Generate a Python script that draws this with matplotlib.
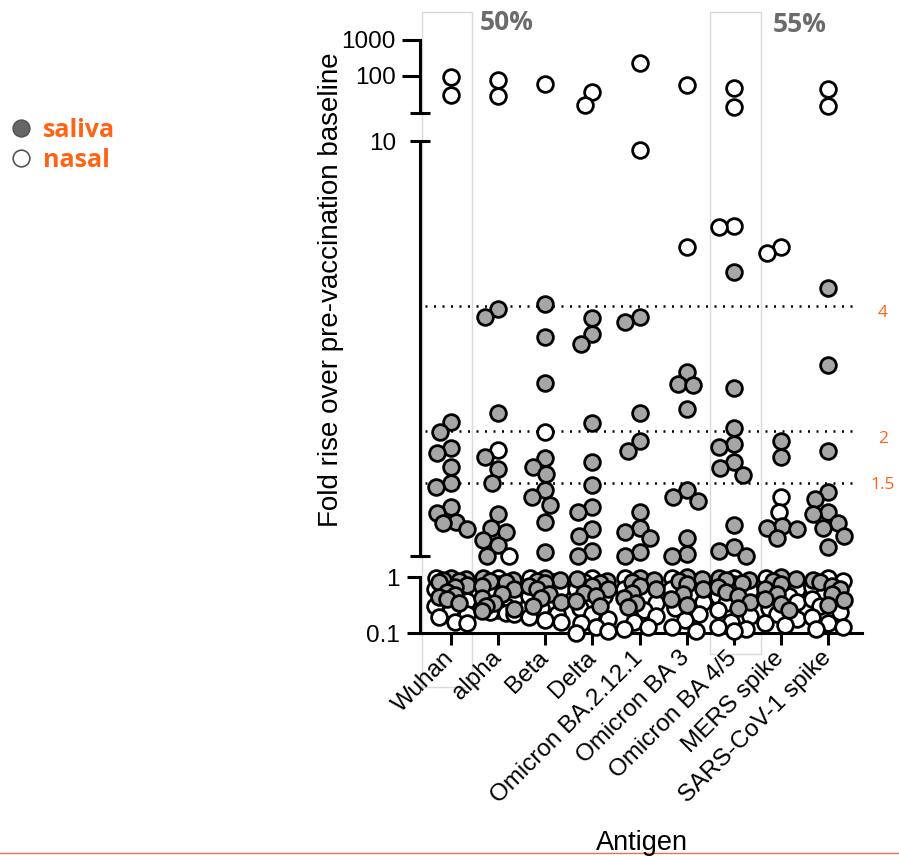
import numpy as np
import matplotlib
matplotlib.use("Agg")
import matplotlib.pyplot as plt
from matplotlib.lines import Line2D
from matplotlib.patches import Rectangle

ANTIGENS = ["Wuhan", "alpha", "Beta", "Delta", "Omicron BA.2.12.1",
            "Omicron BA 3", "Omicron BA 4/5", "MERS spike", "SARS-CoV-1 spike"]

# fold rise over baseline, one list per antigen (same order as ANTIGENS)
SALIVA = [
    [2.10, 1.99, 1.82, 1.77, 1.64, 1.50, 1.47, 1.31, 1.27, 1.21, 1.20, 1.16,
     0.97, 0.93, 0.90, 0.85, 0.80, 0.72, 0.65, 0.55, 0.48, 0.44, 0.40, 0.35],
    [3.94, 3.77, 2.21, 1.73, 1.62, 1.50, 1.26, 1.17, 1.14, 1.09, 1.06, 1.00,
     0.95, 0.90, 0.85, 0.80, 0.70, 0.60, 0.50, 0.42, 0.35, 0.30, 0.27, 0.25],
    [4.05, 3.37, 2.61, 1.72, 1.64, 1.58, 1.44, 1.39, 1.33, 1.21, 1.02,
     0.96, 0.90, 0.86, 0.78, 0.70, 0.60, 0.50, 0.42, 0.36, 0.30],
    [3.74, 3.43, 3.24, 2.09, 1.68, 1.48, 1.31, 1.28, 1.16, 1.12, 1.03, 1.00,
     0.92, 0.85, 0.78, 0.70, 0.60, 0.52, 0.45, 0.38, 0.30],
    [3.76, 3.66, 2.21, 1.89, 1.79, 1.28, 1.17, 1.14, 1.105, 1.02, 1.00,
     0.96, 0.88, 0.81, 0.70, 0.60, 0.52, 0.42, 0.35, 0.29],
    [2.78, 2.60, 2.58, 2.26, 1.44, 1.39, 1.36, 1.105, 1.01, 1.00,
     0.98, 0.93, 0.85, 0.75, 0.60, 0.50, 0.40, 0.32],
    [4.84, 2.54, 2.03, 1.86, 1.83, 1.68, 1.63, 1.57, 1.19, 1.05, 1.03, 1.00,
     0.95, 0.88, 0.88, 0.78, 0.65, 0.55, 0.45, 0.36, 0.28],
    [1.89, 1.73, 1.18, 1.17, 1.16, 1.105,
     0.98, 0.93, 0.85, 0.75, 0.62, 0.50, 0.40, 0.33, 0.26],
    [4.42, 2.89, 1.79, 1.43, 1.37, 1.28, 1.26, 1.20, 1.17, 1.12, 1.05,
     0.90, 0.80, 0.70, 0.60, 0.50, 0.39, 0.32],
]
NASAL = [
    [95, 30, 0.95, 0.80, 0.60, 0.50, 0.38, 0.30, 0.26, 0.22, 0.19, 0.16, 0.15],
    [77, 28, 1.80, 1.00, 0.97, 0.75, 0.55, 0.40, 0.30, 0.26, 0.24, 0.23, 0.22],
    [60, 1.99, 0.95, 0.80, 0.60, 0.45, 0.35, 0.28, 0.22, 0.19, 0.17, 0.16],
    [36, 15.7, 0.97, 0.80, 0.60, 0.45, 0.35, 0.28, 0.22, 0.18, 0.15, 0.13, 0.11, 0.10],
    [229, 9.5, 0.95, 0.80, 0.60, 0.45, 0.35, 0.26, 0.20, 0.16, 0.13, 0.12],
    [56, 5.55, 0.95, 0.80, 0.62, 0.48, 0.36, 0.28, 0.22, 0.17, 0.13, 0.11],
    [46, 13.7, 6.24, 6.20, 0.97, 0.75, 0.58, 0.45, 0.34, 0.26, 0.20, 0.16, 0.13, 0.12, 0.11],
    [5.55, 5.37, 1.39, 1.28, 0.95, 0.80, 0.60, 0.46, 0.36, 0.28, 0.22, 0.18, 0.15, 0.14],
    [44, 14.7, 0.97, 0.85, 0.65, 0.50, 0.40, 0.30, 0.24, 0.19, 0.15, 0.13, 0.12],
]
THRESHOLDS = [4, 2, 1.5]
THRESHOLD_LABELS = ["4", "2", "1.5"]
HIGHLIGHTS = [("Wuhan", "50%"), ("Omicron BA 4/5", "55%")]

ORANGE = "#ff6314"
GREY_FILL = "#a6a6a6"
W, H = 899, 856

plt.rcParams["font.family"] = ["Liberation Sans", "DejaVu Sans"]
fig = plt.figure(figsize=(W / 100, H / 100), dpi=100)


def rect(top_px, bottom_px):
    return [420 / W, 1 - bottom_px / H, 442 / W, (bottom_px - top_px) / H]


ax_top = fig.add_axes(rect(40, 113))
ax_mid = fig.add_axes(rect(141, 556))
ax_bot = fig.add_axes(rect(577, 633))
axes = [ax_top, ax_mid, ax_bot]
top_low = 10 ** 0.972
limits = [(top_low, 1000), (1, 10), (0.1, 1)]

for ax, lim in zip(axes, limits):
    ax.set_yscale("log")
    ax.set_ylim(*lim)
    ax.set_xlim(-0.658, 8.72)
    ax.set_facecolor("none")
    for s in ["top", "right", "bottom"]:
        ax.spines[s].set_visible(False)
    ax.spines["left"].set_linewidth(2.2)
    ax.tick_params(axis="x", bottom=False, labelbottom=False)
    ax.tick_params(axis="y", labelsize=17.5, width=2.2)

ax_top.set_yticks([100, 1000], ["100", "1000"])
ax_top.set_yticks([top_low], [""], minor=True)
ax_top.tick_params(axis="y", which="major", length=13, pad=4.3)
ax_top.tick_params(axis="y", which="minor", direction="inout", length=14.4, width=2.2)

ax_mid.set_yticks([10], ["10"])
ax_mid.set_yticks([1], [""], minor=True)
ax_mid.tick_params(axis="y", which="both", direction="inout", length=14.4, width=2.2, pad=10)

ax_bot.set_yticks([0.1, 1], ["0.1", "1"])
ax_bot.set_yticks([], minor=True)
ax_bot.tick_params(axis="y", length=9.4, pad=5)
ax_bot.spines["bottom"].set_visible(True)
ax_bot.spines["bottom"].set_linewidth(2.2)
ax_bot.set_xticks(range(len(ANTIGENS)))
ax_bot.set_xticklabels(ANTIGENS, rotation=45, ha="right", va="center",
                       rotation_mode="anchor", fontsize=17.5)
ax_bot.tick_params(axis="x", bottom=True, labelbottom=True, length=8.6, width=2.2, pad=7)


def segment(v):
    if v > 10:
        return ax_top
    if v >= 1:
        return ax_mid
    return ax_bot


def swarm(ypix, d=15.0, maxw=16.0):
    """Greedy beeswarm offsets (pixels) for a column of points."""
    xs = np.zeros(len(ypix))
    placed = []
    for i in np.argsort(ypix)[::-1]:
        y = ypix[i]
        near = [(xj, yj) for xj, yj in placed if abs(yj - y) < d]
        cands = [0.0]
        for xj, yj in near:
            w = np.sqrt(d * d - (yj - y) ** 2)
            cands += [xj - w, xj + w]
        cands = sorted(cands, key=abs)
        ok = [c for c in cands if abs(c) <= maxw + 1e-6 and
              all((c - xj) ** 2 + (yj - y) ** 2 >= d * d - 1e-6 for xj, yj in near)]
        if ok:
            x = ok[0]
        else:
            grid = np.linspace(-maxw, maxw, 9)
            x = max(grid, key=lambda c: min((c - xj) ** 2 + (yj - y) ** 2 for xj, yj in near))
        placed.append((x, y))
        xs[i] = x
    return xs


px_per_cat = ax_bot.transData.transform((1, 0.5))[0] - ax_bot.transData.transform((0, 0.5))[0]

for i in range(len(ANTIGENS)):
    vals = SALIVA[i] + NASAL[i]
    kinds = ["s"] * len(SALIVA[i]) + ["n"] * len(NASAL[i])
    ypix = np.array([segment(v).transData.transform((0, v))[1] for v in vals])
    dx = swarm(ypix) / px_per_cat
    for kind, face, z in [("n", "white", 3), ("s", GREY_FILL, 4)]:
        for ax in axes:
            pts = [(i + dx[k], v) for k, (v, t) in enumerate(zip(vals, kinds))
                   if t == kind and segment(v) is ax]
            if pts:
                px, py = zip(*pts)
                ax.scatter(px, py, s=128, facecolor=face, edgecolor="black",
                           linewidths=2.0, zorder=z, clip_on=False)

# threshold lines
offsets = [-7, -8, -2]
for t, lab, off in zip(THRESHOLDS, THRESHOLD_LABELS, offsets):
    ax_mid.axhline(t, xmin=0.011, xmax=0.991, color="black", lw=1.8,
                   ls=(0, (0.8, 2.6)), dash_capstyle="butt", zorder=2)
    ax_mid.annotate(lab, xy=(1.047, t), xycoords=("axes fraction", "data"),
                    xytext=(0, off * 0.72), textcoords="offset points",
                    ha="center", va="center", color=ORANGE, fontsize=12.5,
                    family="Open Sans")

# highlight boxes
fig.add_artist(Rectangle((422 / W, 1 - 687 / H), 50 / W, 675 / H, transform=fig.transFigure,
                         fill=False, ec="#d9d9d9", lw=1, zorder=-1))
fig.add_artist(Rectangle((710 / W, 1 - 654 / H), 51 / W, 642 / H, transform=fig.transFigure,
                         fill=False, ec="#d9d9d9", lw=1, zorder=-1))
fig.text(507 / W, 1 - 22 / H, HIGHLIGHTS[0][1], ha="center", va="center",
         fontsize=19, fontweight="bold", color="#6b6b6b", family="Open Sans")
fig.text(800 / W, 1 - 25 / H, HIGHLIGHTS[1][1], ha="center", va="center",
         fontsize=19, fontweight="bold", color="#6b6b6b", family="Open Sans")

fig.text(331 / W, 1 - 290 / H, "Fold rise over pre-vaccination baseline",
         rotation=90, ha="center", va="center", fontsize=20)
fig.text(642 / W, 1 - 843 / H, "Antigen", ha="center", va="center", fontsize=19.5)

# legend
handles = [Line2D([], [], ls="none", marker="o", ms=12, mfc="#666666", mec="#555555", mew=1.2),
           Line2D([], [], ls="none", marker="o", ms=12, mfc="white", mec="#555555", mew=1.2)]
fig.legend(handles, ["saliva", "nasal"], loc="upper left", bbox_to_anchor=(0.012, 1 - 118 / H),
           frameon=False, labelcolor=ORANGE, handletextpad=0.5, labelspacing=0.2,
           borderpad=0, borderaxespad=0, handlelength=0.8,
           prop=dict(family="Open Sans", weight="bold", size=18))

fig.add_artist(Line2D([0, 1], [1 - 853 / H] * 2, transform=fig.transFigure,
                      color="#f07050", lw=1))

fig.savefig("out.png", dpi=100)
